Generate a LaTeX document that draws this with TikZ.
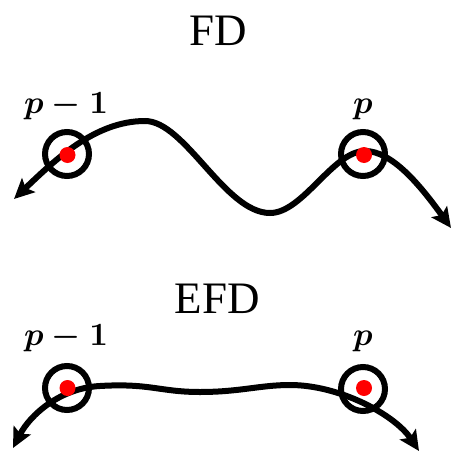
\documentclass[tikz,border=0pt]{standalone}
\usepackage{fontspec}
\newfontfamily\titlefont{Liberation Serif}
\usetikzlibrary{arrows.meta}
\tikzset{
  ring/.style={circle, draw=black, line width=6pt, minimum size=44pt, inner sep=0pt},
  reddot/.style={circle, fill=red, minimum size=16pt, inner sep=0pt},
  curve/.style={line width=6pt, {Stealth[length=20pt,width=19pt,inset=4pt]}-{Stealth[length=20pt,width=19pt,inset=4pt]}},
  titletext/.style={anchor=base, font=\titlefont\fontsize{45}{50}\selectfont},
  pointlabel/.style={anchor=base, inner sep=0pt, font=\boldmath, scale=3.25}
}
\begin{document}
\begin{tikzpicture}[x=1pt,y=-1pt]
\useasboundingbox (0,0) rectangle (451,452);
% top diagram
\node[titletext] (fd) at (218,46) {FD};
\node[pointlabel] (la) at (66,113) {$p-1$};
\node[pointlabel] (lb) at (363,113) {$p$};
\coordinate (ta) at (14,199);
\coordinate (tb) at (451,228);
\node[ring] (ca) at (67,154) {};
\node[ring] (cb) at (363,154) {};
\draw[curve] (ta) .. controls (55,160) and (95,121) .. (145,121)
  .. controls (185,121) and (225,213) .. (270,213)
  .. controls (303,213) and (333,151) .. (365,151)
  .. controls (392,151) and (420,185) .. (tb);
\node[reddot] (da) at (67.5,155) {};
\node[reddot] (db) at (364,155) {};
% bottom diagram
\node[titletext] (efd) at (217.5,313) {EFD};
\node[pointlabel] (lc) at (66,345) {$p-1$};
\node[pointlabel] (ld) at (363,345) {$p$};
\coordinate (tc) at (13,448);
\coordinate (td) at (419,451);
\node[ring] (cc) at (67,388) {};
\node[ring] (cd) at (363,389) {};
\draw[curve] (tc) .. controls (30,415) and (60,388) .. (100,386)
  .. controls (150,383) and (160,392) .. (200,392)
  .. controls (240,392) and (260,385) .. (290,385)
  .. controls (340,385) and (395,415) .. (td);
\node[reddot] (dc) at (67.5,388) {};
\node[reddot] (dd) at (364,388) {};
\end{tikzpicture}
\end{document}
